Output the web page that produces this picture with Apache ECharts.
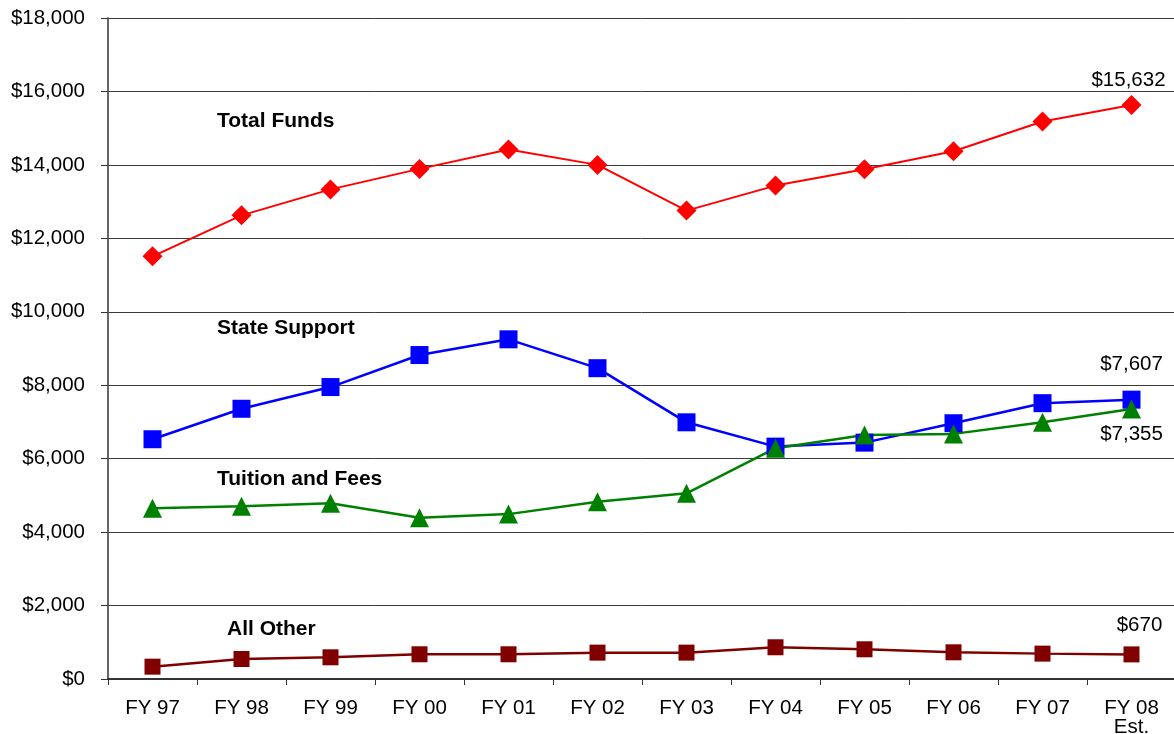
<!DOCTYPE html>
<html>
<head>
<meta charset="utf-8">
<script src="https://cdn.jsdelivr.net/npm/echarts@6/dist/echarts.min.js"></script>
<style>
  html, body { margin: 0; padding: 0; background: #fff; }
  #chart { width: 1174px; height: 734px; }
</style>
</head>
<body>
<div id="chart"></div>
<script>
const years = ['FY 97', 'FY 98', 'FY 99', 'FY 00', 'FY 01', 'FY 02', 'FY 03', 'FY 04', 'FY 05', 'FY 06', 'FY 07', 'FY 08\nEst.']

const totalFunds = [11510, 12626, 13333, 13891, 14417, 14000, 12755, 13436, 13883, 14370, 15181, 15632]
const stateSupport = [6529, 7359, 7950, 8822, 9250, 8464, 6990, 6328, 6437, 6965, 7511, 7607]
const tuitionFees = [4647, 4702, 4784, 4390, 4490, 4826, 5055, 6284, 6647, 6675, 6992, 7355]
const allOther = [336, 545, 591, 673, 673, 718, 718, 864, 809, 727, 691, 670]

const seriesNames = ['Total Funds', 'State Support', 'Tuition and Fees', 'All Other']

const FONT = '"Liberation Sans", Arial, sans-serif'

function money(v) {
  return '$' + Math.round(v).toLocaleString('en-US')
}

// only the last point (FY 08 Est.) carries a value label
function lastLabel(data, position, offset) {
  return data.map((v, i) => i === data.length - 1
    ? { value: v, label: { show: true, position, offset, formatter: p => money(p.value), color: '#000', fontSize: 20.5, fontFamily: FONT } }
    : v)
}

function lineSeries(name, data, color, symbol, size, width, labelPos, labelOffset) {
  return {
    name,
    type: 'line',
    data: lastLabel(data, labelPos, labelOffset),
    symbol,
    symbolSize: size,
    lineStyle: { color, width },
    itemStyle: { color },
    z: 3,
    animation: false
  }
}

function annotation(text, left, top) {
  return {
    type: 'text',
    left,
    top,
    style: { text, fill: '#000', font: 'bold 21px ' + FONT }
  }
}

const chart = echarts.init(document.getElementById('chart'))

chart.setOption({
  backgroundColor: '#fff',
  grid: { left: 108, right: -2, top: 18, bottom: 55, outerBoundsMode: 'none', containLabel: false },
  xAxis: {
    type: 'category',
    data: years,
    boundaryGap: true,
    axisLine: { lineStyle: { color: '#333', width: 2 } },
    axisTick: { show: true, length: 6, interval: 0, lineStyle: { color: '#333', width: 1 } },
    axisLabel: { color: '#000', fontSize: 20.5, fontFamily: FONT, margin: 20, interval: 0, lineHeight: 19 }
  },
  yAxis: {
    type: 'value',
    min: 0,
    max: 18000,
    interval: 2000,
    axisLine: { show: true, lineStyle: { color: '#666', width: 2 } },
    axisTick: { show: true, length: 7, lineStyle: { color: '#333' } },
    axisLabel: { color: '#000', fontSize: 20.5, fontFamily: FONT, margin: 23, formatter: money },
    splitLine: { lineStyle: { color: '#3a3a3a', width: 1 } }
  },
  graphic: [
    annotation(seriesNames[0], 217, 111),
    annotation(seriesNames[1], 217, 318),
    annotation(seriesNames[2], 217, 469),
    annotation(seriesNames[3], 227, 619)
  ],
  series: [
    lineSeries(seriesNames[0], totalFunds, '#ff0000', 'diamond', 20, 2, 'top', [-3, 1]),
    lineSeries(seriesNames[1], stateSupport, '#0000ff', 'rect', 18, 2.5, 'top', [0, -11]),
    lineSeries(seriesNames[2], tuitionFees, '#008000', 'triangle', 19, 2.5, 'bottom', [0, 0]),
    lineSeries(seriesNames[3], allOther, '#800000', 'rect', 16, 2.5, 'top', [8, -6])
  ]
})
</script>
</body>
</html>
